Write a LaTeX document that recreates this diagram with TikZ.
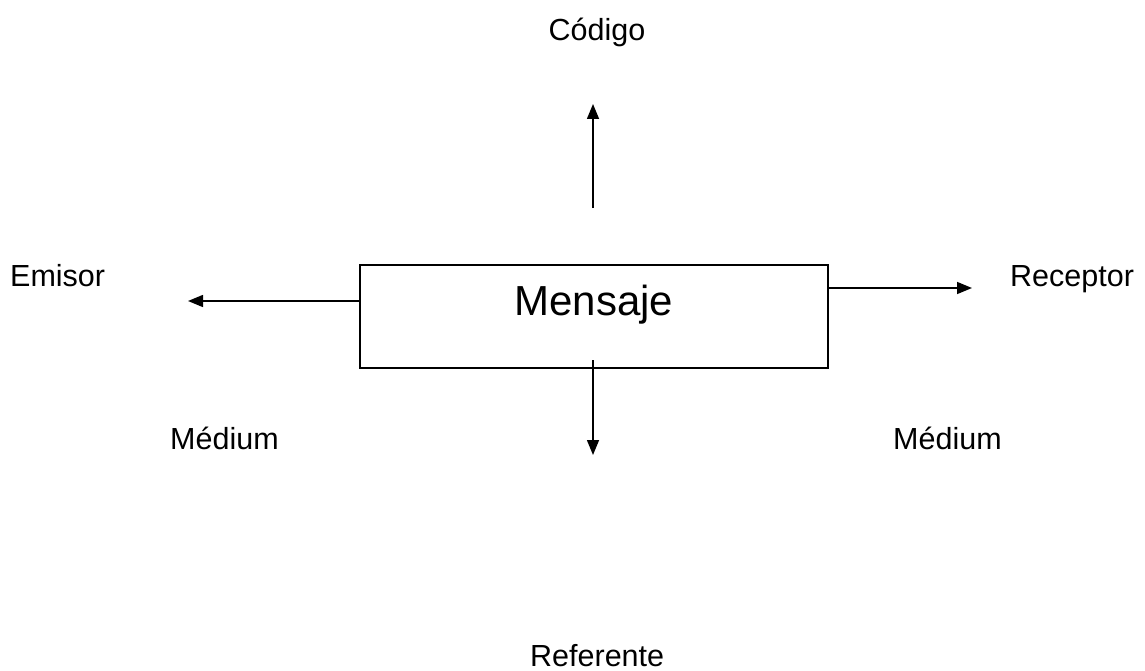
\documentclass[tikz,border=0pt]{standalone}
\usepackage{fontspec}
\setmainfont{Liberation Sans}
\usetikzlibrary{arrows.meta}
\begin{document}
\begin{tikzpicture}[x=1pt,y=1pt,
  lbl/.style={font=\fontsize{30.5}{36}\selectfont, inner sep=0pt, anchor=base west},
  arr/.style={line width=1.5pt, -{Triangle[length=15pt,width=12pt]}},
  box/.style={draw, line width=1.5pt, inner sep=0pt, text width=468pt, align=center,
    text height=50pt, text depth=53pt, font=\fontsize{42}{48}\selectfont}]
\useasboundingbox (0,0) rectangle (1145,-671);
\node[box] (msg) at (594,-316.5) {Mensaje};
\node[lbl, anchor=base] (cod) at (597,-41) {Código};
\node[lbl] (emi) at (10,-286) {Emisor};
\node[lbl] (rec) at (1010,-286) {Receptor};
\node[lbl] (med1) at (170,-449) {Médium};
\node[lbl] (med2) at (893,-449) {Médium};
\node[lbl] (ref) at (530,-666) {Referente};
\coordinate (eTip) at (188,-301);
\coordinate (rTip) at (972,-288);
\coordinate (cBase) at (593,-208);
\coordinate (cTip) at (593,-104);
\coordinate (dBase) at (593,-360);
\coordinate (dTip) at (593,-455);
\draw[arr] (msg.west |- eTip) -- (eTip);
\draw[arr] (msg.east |- rTip) -- (rTip);
\draw[arr] (cBase) -- (cTip);
\draw[arr] (dBase) -- (dTip);
\end{tikzpicture}
\end{document}
